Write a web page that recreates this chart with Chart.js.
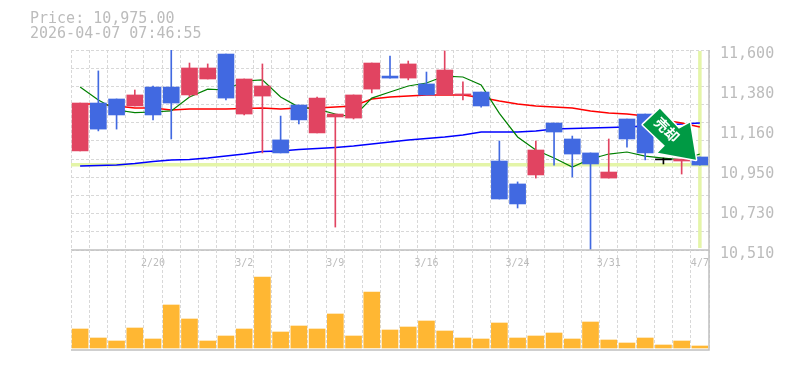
<!DOCTYPE html>
<html>
<head>
<meta charset="utf-8">
<title>Price chart</title>
<script src="https://cdn.jsdelivr.net/npm/chart.js@4"></script>
<style>
  html, body { margin: 0; padding: 0; background: #fff; }
  #wrap { position: relative; width: 785px; height: 370px; overflow: hidden; }
  canvas { position: absolute; left: 0; top: 0; }
  .head { position: absolute; left: 30px; font: 15px "DejaVu Sans Mono", monospace; color: #bcbcbc; white-space: pre; line-height: 15px; }
</style>
</head>
<body>
<div id="wrap">
  <canvas id="price" width="785" height="370"></canvas>
  <canvas id="volume" width="785" height="370"></canvas>
  <div class="head" style="top:11px">Price: 10,975.00</div>
  <div class="head" style="top:26px">2026-04-07 07:46:55</div>
</div>
<script>
const dates = ["2/16","2/17","2/18","2/19","2/20","2/24","2/25","2/26","2/27","3/2","3/3","3/4","3/5","3/6","3/9","3/10","3/11","3/12","3/13","3/16","3/17","3/18","3/19","3/23","3/24","3/25","3/26","3/27","3/30","3/31","4/1","4/2","4/3","4/6","4/7"];
const dateLabels = ["2/20","3/2","3/9","3/16","3/24","3/31","4/7"];

const opens  = [11050,11311,11333,11295,11398,11398,11355,11442,11578,11251,11349,11110,11300,11148,11235,11229,11387,11458,11447,11415,11355,11355,11371,10995,10870,10919,11202,11115,11039,10902,11224,11251,11001,10995,11017];
const closes = [11311,11169,11246,11355,11246,11311,11502,11502,11338,11442,11404,11039,11219,11338,11251,11355,11529,11447,11524,11355,11491,11360,11295,10788,10761,11055,11153,11033,10979,10935,11115,11039,11001,11006,10973];
const highs  = [11311,11486,11333,11382,11404,11600,11529,11524,11578,11442,11524,11240,11300,11344,11251,11355,11529,11567,11540,11480,11595,11426,11371,11104,10881,11104,11202,11131,11039,11115,11224,11251,11011,11006,11017];
const lows   = [11050,11159,11169,11295,11219,11115,11344,11442,11328,11246,11039,11039,11197,11148,10635,11224,11366,11447,11437,11355,11355,11328,11289,10788,10739,10902,10973,10908,10510,10902,11071,11001,10979,10924,10973];

const maShort = [11398,11328,11273,11259,11262,11268,11344,11387,11382,11431,11437,11344,11289,11278,11251,11235,11338,11371,11404,11420,11458,11453,11409,11255,11126,11055,11011,10962,11006,11033,11044,11022,11011,11001,11033];
const maMid   = [11306,11306,11295,11284,11284,11273,11278,11278,11278,11281,11284,11278,11284,11284,11289,11295,11333,11344,11349,11355,11355,11355,11341,11322,11306,11295,11289,11284,11268,11257,11251,11240,11219,11202,11180];
const maLong  = [10968,10971,10973,10981,10992,11001,11003,11011,11022,11033,11047,11050,11058,11063,11069,11077,11088,11099,11110,11118,11126,11137,11153,11153,11153,11159,11169,11172,11175,11178,11180,11186,11191,11197,11202];

const volumes = [19,10,7,20,9,43,29,7,12,19,71,16,22,19,34,12,56,18,21,27,17,10,9,25,10,12,15,9,26,8,5,10,3,7,2];

const priceTicks  = [11600,11382,11164,10946,10728,10510];
const priceLabels = ["11,600","11,380","11,160","10,950","10,730","10,510"];
const priceGrid   = [11600,11500.9,11401.8,11302.7,11203.6,11104.5,11005.5,10906.4,10807.3,10708.2,10609.1,10510];
const currentPrice = 10975;

const RED = "#e14461", BLUE = "#4169e1", DOJI = "#000000";
const GRID = "#d8d8d8", FRAME = "#c0c0c0", TEXT = "#bcbcbc", HILITE = "#e4f5a8";

const candleColors = opens.map((o, i) => closes[i] === o ? DOJI : (closes[i] > o ? RED : BLUE));

const dashedGrid = { color: GRID, lineWidth: 1, drawTicks: false, tickLength: 0 };
const dashedBorder = { display: false, dash: [3, 2] };

// right and bottom edges of the plot
const framePlugin = {
    id: "frame",
    afterDraw(chart) {
        const a = chart.chartArea, ctx = chart.ctx;
        ctx.save();
        ctx.strokeStyle = FRAME;
        ctx.lineWidth = 1.5;
        ctx.beginPath();
        ctx.moveTo(a.right, a.top);
        ctx.lineTo(a.right, a.bottom);
        ctx.lineTo(a.left, a.bottom);
        ctx.stroke();
        ctx.restore();
    }
};

// light green cross at the latest price and date
const hilitePlugin = {
    id: "hilite",
    beforeDatasetsDraw(chart) {
        const a = chart.chartArea, ctx = chart.ctx;
        const px = chart.scales.x.getPixelForValue(dates.length - 1);
        const py = chart.scales.y.getPixelForValue(currentPrice);
        ctx.save();
        ctx.strokeStyle = HILITE;
        ctx.lineWidth = 3.5;
        ctx.beginPath();
        ctx.moveTo(a.left, py);
        ctx.lineTo(a.right, py);
        ctx.moveTo(px, a.top + 1);
        ctx.lineTo(px, a.bottom - 2);
        ctx.stroke();
        ctx.restore();
    }
};

// green sell arrow, tip sits just above the last candle
const arrowPlugin = {
    id: "arrow",
    afterDatasetsDraw(chart) {
        const ctx = chart.ctx;
        const tx = chart.scales.x.getPixelForValue(dates.length - 1) - 4;
        const ty = chart.scales.y.getPixelForValue(currentPrice) - 5;
        const shape = [[-36,-51],[-17,-31],[-6,-37],[0,0],[-38,-7],[-31,-14],[-53,-35]];
        ctx.save();
        ctx.translate(tx, ty);
        ctx.beginPath();
        shape.forEach((p, i) => i ? ctx.lineTo(p[0], p[1]) : ctx.moveTo(p[0], p[1]));
        ctx.closePath();
        ctx.lineJoin = "round";
        ctx.strokeStyle = "#ffffff";
        ctx.lineWidth = 3;
        ctx.stroke();
        ctx.fillStyle = "#009a44";
        ctx.fill();
        ctx.translate(-29, -30);
        ctx.rotate(Math.PI / 4);
        ctx.fillStyle = "#ffffff";
        ctx.font = "bold 14px 'Noto Sans CJK JP'";
        ctx.textAlign = "center";
        ctx.textBaseline = "middle";
        ctx.fillText("売却", 0, 0);
        ctx.restore();
    }
};

new Chart(document.getElementById("price"), {
    type: "bar",
    data: {
        labels: dates,
        datasets: [
            { type: "bar", data: opens.map((o, i) => [o, closes[i]]), backgroundColor: candleColors, barThickness: 16, minBarLength: 1, grouped: false, order: 0 },
            { type: "bar", data: lows.map((l, i) => [l, highs[i]]), backgroundColor: candleColors, barThickness: 1, grouped: false, order: 1 },
            { type: "line", data: maShort, borderColor: "#008000", borderWidth: 1.2, pointRadius: 0, tension: 0, order: 2 },
            { type: "line", data: maMid, borderColor: "#ff0000", borderWidth: 1.5, pointRadius: 0, tension: 0, order: 3 },
            { type: "line", data: maLong, borderColor: "#0000ff", borderWidth: 1.5, pointRadius: 0, tension: 0, order: 4 }
        ]
    },
    options: {
        responsive: false,
        animation: false,
        layout: { padding: { left: 71, right: 0, top: 50, bottom: 120 } },
        plugins: { legend: { display: false }, tooltip: { enabled: false } },
        scales: {
            x: {
                ticks: { display: false },
                grid: dashedGrid,
                border: dashedBorder,
                afterFit: scale => { scale.height = 0; }
            },
            y: {
                position: "right",
                min: 10510,
                max: 11600,
                afterBuildTicks: scale => { scale.ticks = priceTicks.map(v => ({ value: v })); },
                afterFit: scale => { scale.width = 76; },
                ticks: {
                    padding: 11,
                    labelOffset: 4,
                    color: TEXT,
                    font: { family: "DejaVu Sans Mono", size: 15 },
                    callback: v => priceLabels[priceTicks.indexOf(v)]
                },
                grid: { display: false, drawTicks: false, tickLength: 0 },
                border: { display: false }
            },
            yGrid: {
                position: "left",
                min: 10510,
                max: 11600,
                afterBuildTicks: scale => { scale.ticks = priceGrid.map(v => ({ value: v })); },
                afterFit: scale => { scale.width = 0; },
                ticks: { display: false },
                grid: dashedGrid,
                border: dashedBorder
            }
        }
    },
    plugins: [hilitePlugin, arrowPlugin, framePlugin]
});

new Chart(document.getElementById("volume"), {
    type: "bar",
    data: {
        labels: dates,
        datasets: [
            { data: volumes, backgroundColor: "#ffb733", barThickness: 16 }
        ]
    },
    options: {
        responsive: false,
        animation: false,
        layout: { padding: { left: 71, right: 76, top: 250, bottom: 20 } },
        plugins: { legend: { display: false }, tooltip: { enabled: false } },
        scales: {
            x: {
                position: "top",
                afterFit: scale => { scale.height = 0; },
                ticks: {
                    autoSkip: false,
                    maxRotation: 0,
                    mirror: true,
                    padding: 7,
                    color: TEXT,
                    font: { family: "DejaVu Sans Mono", size: 10 },
                    callback: function (v) {
                        const d = this.getLabelForValue(v);
                        return dateLabels.includes(d) ? d : "";
                    }
                },
                grid: dashedGrid,
                border: dashedBorder
            },
            y: { display: false, min: -2, max: 98 }
        }
    },
    plugins: [framePlugin]
});
</script>
</body>
</html>
